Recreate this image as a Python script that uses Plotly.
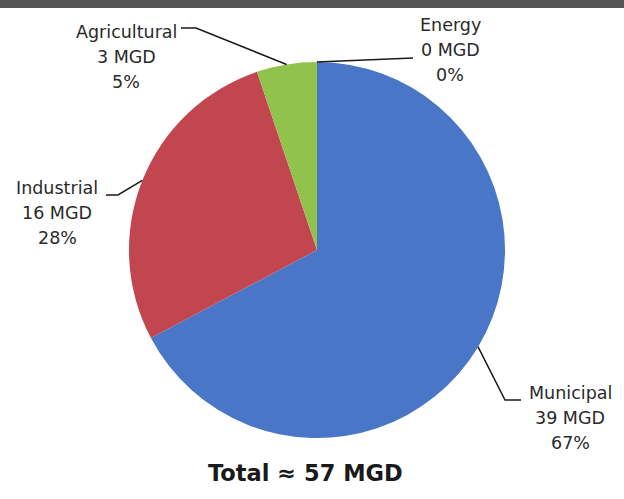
import math
import plotly.graph_objects as go

# Water use by sector, million gallons per day
sectors = ["Municipal", "Industrial", "Agricultural", "Energy"]
mgd = [39, 16, 3, 0]
colors = ["#4A76C8", "#C2464F", "#90C24C", "#7F7F7F"]
total_label = "Total \u2248 57 MGD"

W, H = 624, 499
cx, cy, r = 317, 250, 188  # pie centre and radius in pixels


def px(x):
    return x / W


def py(y):
    return 1 - y / H


fig = go.Figure(
    go.Pie(
        labels=sectors,
        values=mgd,
        sort=False,
        direction="clockwise",
        rotation=0,
        marker=dict(colors=colors, line=dict(width=0)),
        textinfo="none",
        hoverinfo="label+value+percent",
        domain=dict(x=[px(cx - r), px(cx + r)], y=[py(cy + r), py(cy - r)]),
        showlegend=False,
    )
)

# Label block centre (middle line) and leader-line bends for each sector
label_pos = {
    "Municipal": (570, 418),
    "Industrial": (57, 213),
    "Agricultural": (126, 57),
    "Energy": (450, 50),
}
bends = {
    "Municipal": [(505, 400), (521, 400)],
    "Industrial": [(118, 195), (106, 195)],
    "Agricultural": [(196, 28), (181, 28)],
    "Energy": [(413, 58)],
}
line_gap = 25

total = sum(mgd)
cum = 0.0
shapes = [
    dict(type="rect", xref="paper", yref="paper", x0=0, x1=1, y0=py(8), y1=1,
         fillcolor="#555555", line=dict(width=0), layer="above"),
]
annotations = []
label_font = dict(family="DejaVu Sans", size=17.5, color="#2a2a2a")
for name, v in zip(sectors, mgd):
    mid = (cum + v / 2) / total * 2 * math.pi
    cum += v
    ex = cx + r * math.sin(mid)
    ey = cy - r * math.cos(mid)
    pts = [(ex, ey)] + bends[name]
    path = "M " + " L ".join(f"{px(x):.5f},{py(y):.5f}" for x, y in pts)
    shapes.append(dict(type="path", xref="paper", yref="paper", path=path,
                       line=dict(color="#1a1a1a", width=1.5)))
    pct = round(v / total * 100)
    lx, ly = label_pos[name]
    for k, txt in enumerate([name, f"{v} MGD", f"{pct}%"]):
        annotations.append(dict(
            x=px(lx), y=py(ly + (k - 1) * line_gap), xref="paper", yref="paper",
            text=txt, showarrow=False, xanchor="center", yanchor="middle",
            font=label_font,
        ))

annotations.append(dict(
    x=px(305), y=py(473), xref="paper", yref="paper", text=f"<b>{total_label}</b>",
    showarrow=False, xanchor="center", yanchor="middle",
    font=dict(family="DejaVu Sans", size=22.5, color="#1a1a1a"),
))

fig.update_layout(
    width=W, height=H,
    margin=dict(l=0, r=0, t=0, b=0),
    paper_bgcolor="white", plot_bgcolor="white",
    shapes=shapes, annotations=annotations,
)

fig.write_html("out.html")
